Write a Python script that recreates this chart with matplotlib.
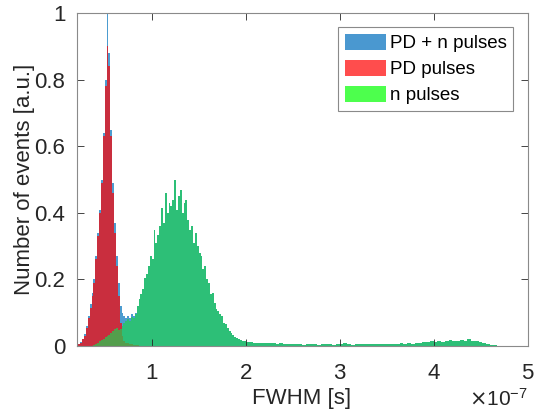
import numpy as np
import matplotlib.pyplot as plt
from matplotlib.patches import Patch
from matplotlib.ticker import ScalarFormatter, FormatStrFormatter

# FWHM histograms, normalised heights
# fine bins: 0.20 .. 2.20 (x1e-7 s), width 0.02
fine_start, fine_step, n_fine = 0.20, 0.02, 100
# coarse tail bins: 2.20 .. 4.68, width 0.04
tail_step, n_tail = 0.04, 62

# PD pulses, first 34 fine bins (0.20 .. 0.88), zero afterwards
pd_low = [0.0, 0.005, 0.01, 0.02, 0.03, 0.055, 0.085, 0.115, 0.15, 0.19,
          0.26, 0.33, 0.40, 0.49, 0.63, 0.78, 0.90, 0.84, 0.63, 0.46,
          0.34, 0.24, 0.15, 0.07, 0.03, 0.015, 0.01, 0.008, 0.006, 0.005,
          0.004, 0.003, 0.002, 0.0]

# PD + n pulses, first 34 fine bins; beyond that it follows the n pulses
both_low = [0.0, 0.005, 0.012, 0.02, 0.035, 0.06, 0.09, 0.125, 0.16, 0.20,
            0.27, 0.34, 0.41, 0.50, 0.64, 0.80, 1.0, 0.88, 0.65, 0.49,
            0.37, 0.27, 0.19, 0.12, 0.10, 0.09, 0.085, 0.09, 0.085, 0.095,
            0.09, 0.10, 0.12, 0.14]

# n pulses, fine bins
n_fine_vals = [0, 0, 0, 0, 0, 0, 0, 0, 0, 0.003,
               0.006, 0.01, 0.014, 0.018, 0.022, 0.026, 0.03, 0.034, 0.038, 0.044,
               0.05, 0.053, 0.048, 0.052, 0.06, 0.07, 0.075, 0.08, 0.076, 0.088,
               0.085, 0.097, 0.12, 0.14, 0.155, 0.17, 0.205, 0.215, 0.24, 0.27,
               0.26, 0.35, 0.31, 0.335, 0.36, 0.415, 0.37, 0.46, 0.40, 0.43,
               0.42, 0.44, 0.50, 0.41, 0.45, 0.47, 0.40, 0.43, 0.44, 0.38,
               0.35, 0.36, 0.31, 0.34, 0.30, 0.28, 0.27, 0.23, 0.24, 0.20,
               0.19, 0.155, 0.16, 0.13, 0.11, 0.105, 0.095, 0.09, 0.07, 0.065,
               0.055, 0.045, 0.038, 0.033, 0.028, 0.025, 0.02, 0.018, 0.016, 0.014,
               0.013, 0.012, 0.011, 0.012, 0.010, 0.009, 0.010, 0.008, 0.009, 0.008]
# n pulses, tail bins
n_tail_vals = [0.009, 0.008, 0.009, 0.007, 0.008, 0.006, 0.007, 0.006,
               0.005, 0.006, 0.004, 0.005, 0.007, 0.005, 0.004, 0.006, 0.005, 0.005,
               0.004, 0.006, 0.005, 0.008, 0.005, 0.004, 0.006, 0.005, 0.005, 0.006,
               0.005, 0.006, 0.005, 0.007, 0.006, 0.006, 0.007, 0.006, 0.008, 0.007,
               0.008, 0.007, 0.009, 0.010, 0.012,
               0.011, 0.014, 0.012, 0.016, 0.013, 0.015, 0.017, 0.014, 0.016, 0.018,
               0.015, 0.020, 0.016, 0.014, 0.012,
               0.008, 0.006, 0.004, 0.002]

labels = ["PD + n pulses", "PD pulses", "n pulses"]

# bin edges
edges = np.concatenate([fine_start + fine_step * np.arange(n_fine + 1),
                        fine_start + fine_step * n_fine + tail_step * np.arange(1, n_tail + 1)])
edges = edges * 1e-7
lefts = edges[:-1]
widths = np.diff(edges)

n_vals = np.array(n_fine_vals + n_tail_vals)
pd_vals = np.zeros(len(n_vals))
pd_vals[:len(pd_low)] = pd_low
both_vals = n_vals.copy()
both_vals[:len(both_low)] = both_low

plt.rcParams['font.family'] = ['Liberation Sans', 'DejaVu Sans']

fig = plt.figure(figsize=(5.35, 4.19), dpi=100)
ax = fig.add_axes([0.143, 0.174, 0.843, 0.795])

ax.bar(lefts, both_vals, width=widths, align='edge', color=(0, 0.447, 0.741),
       alpha=0.7, linewidth=0, edgecolor='none')
ax.bar(lefts, pd_vals, width=widths, align='edge', color=(1, 0, 0),
       alpha=0.7, linewidth=0, edgecolor='none')
ax.bar(lefts, n_vals, width=widths, align='edge', color=(0.13, 0.81, 0.32),
       alpha=0.7, linewidth=0, edgecolor='none')

ax.set_xlim(0.2e-7, 5e-7)
ax.set_ylim(0, 1)
ax.set_xticks(np.arange(1, 6) * 1e-7)
ax.set_yticks(np.arange(0, 1.01, 0.2))
fmt = ScalarFormatter(useMathText=True)
ax.xaxis.set_major_formatter(fmt)
ax.yaxis.set_major_formatter(FormatStrFormatter('%g'))
ax.xaxis.get_offset_text().set_fontsize(15)
ax.xaxis.get_offset_text().set_color('#262626')

ax.tick_params(direction='in', top=True, right=True, length=5, width=0.6,
               labelsize=16, colors='#262626', pad=8)
ax.tick_params(axis='x', pad=12)
for s in ax.spines.values():
    s.set_color('#8a8a8a')
    s.set_linewidth(0.8)

ax.set_xlabel("FWHM [s]", fontsize=16, color='#262626', labelpad=3)
ax.set_ylabel("Number of events [a.u.]", fontsize=16, color='#262626', labelpad=0)

handles = [Patch(facecolor=(74/255, 152/255, 208/255)),
           Patch(facecolor=(1, 77/255, 77/255)),
           Patch(facecolor=(77/255, 1, 77/255))]
leg = ax.legend(handles, labels, loc='upper right', fontsize=13.5, fancybox=False,
                edgecolor='#8a8a8a', framealpha=1, handlelength=2.2, handleheight=0.95,
                handletextpad=0.2, labelspacing=0.4, borderpad=0.35, borderaxespad=0.75)
leg.get_frame().set_linewidth(0.8)

fig.savefig("out.png", dpi=100)
